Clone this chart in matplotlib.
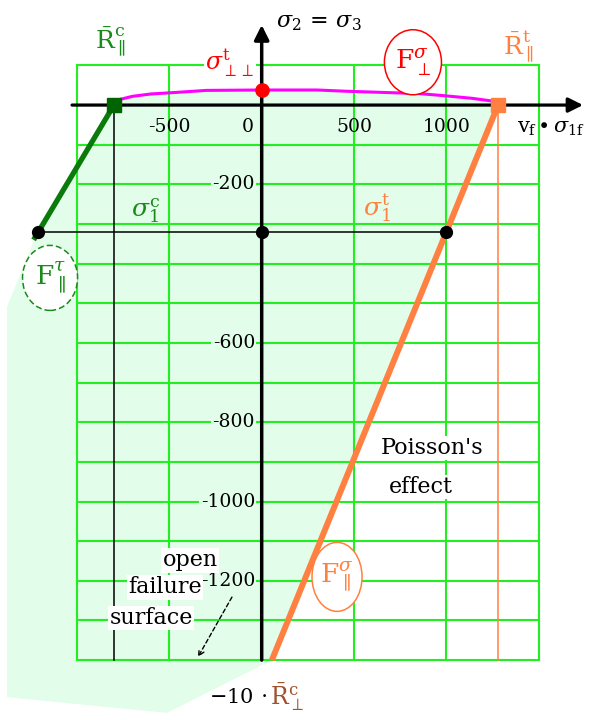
import matplotlib
matplotlib.use('Agg')
import matplotlib.pyplot as plt
from matplotlib.patches import Ellipse, Polygon

plt.rcParams['mathtext.fontset'] = 'dejavuserif'
plt.rcParams['font.family'] = ['DejaVu Serif']

### DATA ###
grid_x = [-1000, -500, 0, 500, 1000, 1500]
grid_y = [-1400, -1300, -1200, -1100, -1000, -900, -800, -700, -600,
          -500, -400, -300, -200, -100, 0, 100]
xtick_vals = [-500, 0, 500, 1000]
ytick_vals = [-200, -600, -800, -1000, -1200]

# strengths
R_par_c = -800          # compressive strength, fibre direction
R_par_t = 1280          # tensile strength, fibre direction
sig_perp_t = 38         # transverse tensile strength
sig_1 = -320            # sigma_1 level of the corner points
sig_1c_x = -1210
sig_1t_x = 1000

# F_perp^sigma (transverse tension) branch
mag_x = [-800, -770, -700, -600, -460, -300, 0, 300, 450, 650, 850, 980, 1140, 1250, 1280]
mag_y = [0, 14, 22, 28, 32, 37, 38, 38, 35, 32, 29, 24, 17, 10, 0]

# F_par^tau branch (shear) and F_par^sigma branch (Poisson's effect)
tau_x = [-800, -1235]
tau_y = [0, -340]
pois_x = [1280, 55]
pois_y = [0, -1400]

# open failure surface continued below the grid
open_x = [55, -513, -1325, -1379, -1379, -1238]
open_y = [-1400, -1533, -1496, -1493, -509, -348]

### FIGURE ###
fig = plt.figure(figsize=(5.93, 7.2), dpi=100)
ax = fig.add_axes([0, 0, 1, 1])
ax.set_xlim(-1417, 1794)
ax.set_ylim(-1551, 265)
ax.axis('off')

mint = '#e2fdea'
grid_green = '#22ee22'
orange = '#ff8040'
dgreen = '#1a8a1a'

# shaded failure region
poly_x = mag_x + pois_x[1:] + open_x[1:] + tau_x[::-1]
poly_y = mag_y + pois_y[1:] + open_y[1:] + tau_y[::-1]
ax.add_patch(Polygon(list(zip(poly_x, poly_y)), closed=True, facecolor=mint,
                     edgecolor='none', zorder=1))

# grid
for gx in grid_x:
    ax.plot([gx, gx], [grid_y[0], grid_y[-1]], color=grid_green, lw=1.5, zorder=2)
for gy in grid_y:
    ax.plot([grid_x[0], grid_x[-1]], [gy, gy], color=grid_green, lw=1.5, zorder=2)

# thin reference lines
ax.plot([R_par_c, R_par_c], [0, grid_y[0]], color='black', lw=1.1, zorder=3)
ax.plot([R_par_t, R_par_t], [0, grid_y[0]], color=orange, lw=1.1, zorder=3)
ax.plot([sig_1c_x, sig_1t_x], [sig_1, sig_1], color='black', lw=1.1, zorder=3)

# axes with arrows
ax.annotate('', xy=(1740, 0), xytext=(-1027, 0),
            arrowprops=dict(arrowstyle='-|>', color='black', lw=2.3,
                            mutation_scale=22, shrinkA=0, shrinkB=0), zorder=5)
ax.annotate('', xy=(0, 202), xytext=(0, -1400),
            arrowprops=dict(arrowstyle='-|>', color='black', lw=2.5,
                            mutation_scale=22, shrinkA=0, shrinkB=0), zorder=5)

# failure branches
ax.plot(mag_x, mag_y, color='#ff00ff', lw=2.2, zorder=4)
ax.plot(tau_x, tau_y, color='#0a7a0a', lw=3.8, solid_capstyle='butt', zorder=4)
ax.plot(pois_x, pois_y, color=orange, lw=4.3, solid_capstyle='butt', zorder=4)

# corner points
ax.plot([sig_1c_x, 0, sig_1t_x], [sig_1, sig_1, sig_1], 'o', color='black',
        ms=8.5, zorder=6)
ax.plot([0], [sig_perp_t], 'o', color='red', ms=9.5, zorder=6)
ax.plot([R_par_c], [0], 's', color='#006400', ms=10, zorder=6)
ax.plot([R_par_t], [0], 's', color=orange, ms=10, zorder=6)

# tick labels
for v in xtick_vals:
    ax.text(v if v != 0 else -78, -55, '-%d' % -v if v < 0 else '%d' % v,
            ha='center', va='center', fontsize=13.5, zorder=7)
for v in ytick_vals:
    ax.text(-36, v, '-%d' % -v, ha='right', va='center', fontsize=13.5, zorder=7,
            bbox=dict(facecolor=mint, edgecolor='none', pad=1))

# labels
ax.text(77, 209, r'$\sigma_2\,=\,\sigma_3$', ha='left', va='center', fontsize=16, zorder=7)
ax.text(1383, -58, r'$\mathrm{v}_\mathrm{f}\bullet\sigma_{1\mathrm{f}}$', ha='left',
        va='center', fontsize=15, zorder=7)
ax.text(-171, 106, r'$\sigma_{\perp\perp}^{\mathrm{t}}$', ha='center', va='center',
        fontsize=17, color='red', zorder=7,
        bbox=dict(facecolor='white', edgecolor='none', pad=1))
ax.text(1388, 146, r'$\bar{\mathrm{R}}_{\parallel}^{\mathrm{t}}$', ha='center', va='center',
        fontsize=18, color=orange, zorder=7)
ax.text(-821, 159, r'$\bar{\mathrm{R}}_{\parallel}^{\mathrm{c}}$', ha='center', va='center',
        fontsize=18, color=dgreen, zorder=7)
ax.text(-631, -265, r'$\sigma_1^\mathrm{c}$', ha='center', va='center', fontsize=18,
        color=dgreen, zorder=7)
ax.text(624, -260, r'$\sigma_1^\mathrm{t}$', ha='center', va='center', fontsize=18,
        color=orange, zorder=7)

# mode labels in ellipses
ax.add_patch(Ellipse((819, 108), 309, 164, facecolor='white', edgecolor='red',
                     lw=1.1, zorder=6))
ax.text(819, 108, r'$\mathrm{F}_{\perp}^{\sigma}$', ha='center', va='center', fontsize=19,
        color='red', zorder=7)
ax.add_patch(Ellipse((-1146, -436), 298, 164, facecolor='white', edgecolor=dgreen,
                     lw=1.1, ls=(0, (4, 2)), zorder=6))
ax.text(-1146, -436, r'$\mathrm{F}_{\parallel}^{\tau}$', ha='center', va='center',
        fontsize=19, color=dgreen, zorder=7)
ax.add_patch(Ellipse((408, -1190), 271, 174, facecolor='white', edgecolor=orange,
                     lw=1.1, zorder=6))
ax.text(408, -1190, r'$\mathrm{F}_{\parallel}^{\sigma}$', ha='center', va='center',
        fontsize=19, color=orange, zorder=7)

# annotations
box = dict(facecolor='white', edgecolor='none', pad=1)
ax.text(922, -865, "Poisson's", ha='center', va='center', fontsize=16, bbox=box, zorder=7)
ax.text(864, -963, 'effect', ha='center', va='center', fontsize=16, bbox=box, zorder=7)
ax.text(-388, -1148, 'open', ha='center', va='center', fontsize=16, bbox=box, zorder=7)
ax.text(-523, -1216, 'failure', ha='center', va='center', fontsize=16, bbox=box, zorder=7)
ax.text(-599, -1294, 'surface', ha='center', va='center', fontsize=16, bbox=box, zorder=7)
ax.annotate('', xy=(-345, -1392), xytext=(-161, -1241),
            arrowprops=dict(arrowstyle='->', color='black', lw=1.0, ls=(0, (3, 2)),
                            shrinkA=0, shrinkB=0), zorder=7)

ax.text(30, -1493, r'$-10\,\cdot$', ha='right', va='center', fontsize=15, zorder=7)
ax.text(45, -1493, r'$\bar{\mathrm{R}}_{\perp}^{\mathrm{c}}$', ha='left', va='center',
        fontsize=17, color='#a0522d', zorder=7)

fig.savefig('out.png', dpi=100, facecolor='white')
